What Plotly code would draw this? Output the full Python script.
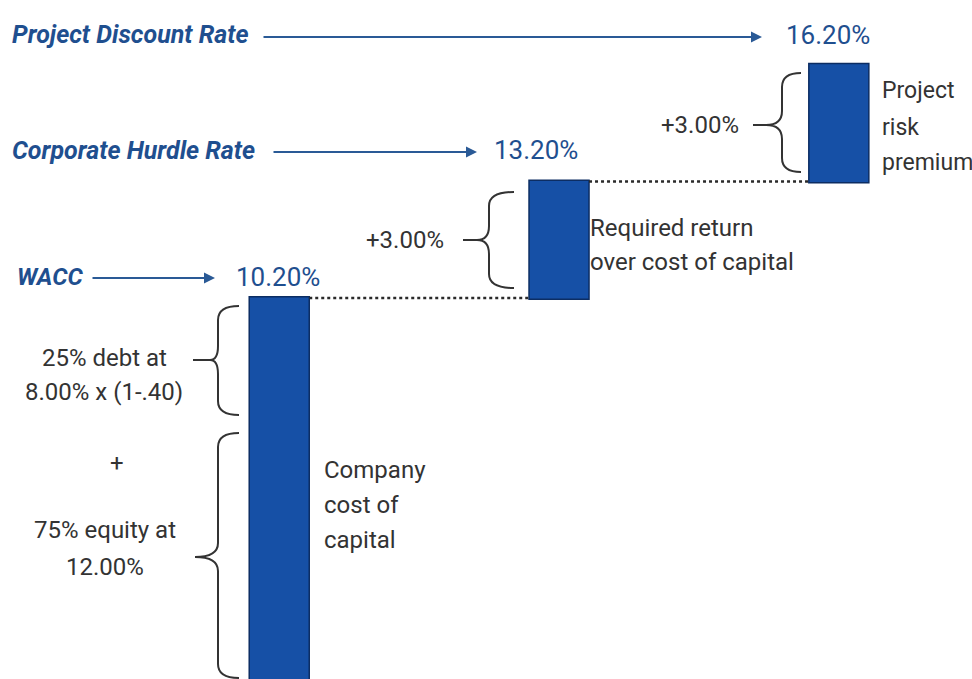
import plotly.graph_objects as go

# ---- data ----
steps = ["Company cost of capital", "Required return over cost of capital", "Project risk premium"]
increments = [10.20, 3.00, 3.00]
rate_names = ["WACC", "Corporate Hurdle Rate", "Project Discount Rate"]
step_notes = [["Company", "cost of", "capital"],
              ["Required return", "over cost of capital"],
              ["Project", "risk", "premium"]]
wacc_parts = [["25% debt at", "8.00% x (1-.40)"], ["75% equity at", "12.00%"]]

W, H = 972, 679
BLUE_TXT = "#1f4f8f"
BAR = "#1650a6"
DARK = "#333333"
FONT = "Roboto, Liberation Sans, sans-serif"

def P(x, y):
    return x / W, 1 - y / H

cum = []
s = 0
for v in increments:
    s += v
    cum.append(s)

fig = go.Figure(go.Waterfall(
    x=steps, y=increments, measure=["relative"] * len(increments),
    width=0.2145,
    increasing=dict(marker=dict(color=BAR, line=dict(color="#0c2d63", width=1.5))),
    connector=dict(line=dict(color="#2a2a2a", width=2.5, dash="dot"), mode="between"),
    textinfo="none", hoverinfo="skip",
))

annotations = []
shapes = []

def text(x, ys, t, size=24, color=DARK, xanchor="left", italic=False, bold=False):
    lines = t if isinstance(t, list) else [t]
    ys = ys if isinstance(ys, list) else [ys]
    for line, y in zip(lines, ys):
        px, py = P(x, y)
        tt = line
        if bold:
            tt = "<b>" + tt + "</b>"
        if italic:
            tt = "<i>" + tt + "</i>"
        annotations.append(dict(x=px, y=py, xref="paper", yref="paper", text=tt, showarrow=False,
                                xanchor=xanchor, yanchor="middle",
                                font=dict(family=FONT, size=size, color=color)))

def arrow(x0, x1, y):
    px, py = P(x1, y)
    annotations.append(dict(x=px, y=py, xref="paper", yref="paper", text="", showarrow=True,
                            ax=x0 - x1, ay=0, arrowhead=2, arrowsize=1.1, arrowwidth=2,
                            arrowcolor="#2a5a96"))

def brace(xr, xs, xt, yt, ym, yb, stub=None, r=14):
    pts = [("M", [(xr, yt)]), ("Q", [(xs, yt), (xs, yt + r)]), ("L", [(xs, ym - r)]),
           ("Q", [(xs, ym), (xt, ym)]), ("Q", [(xs, ym), (xs, ym + r)]), ("L", [(xs, yb - r)]),
           ("Q", [(xs, yb), (xr, yb)])]
    if stub is not None:
        pts += [("M", [(stub, ym)]), ("L", [(xt, ym)])]
    path = ""
    for cmd, ps in pts:
        path += cmd + " " + " ".join(f"{P(a, b)[0]:.5f},{P(a, b)[1]:.5f}" for a, b in ps) + " "
    shapes.append(dict(type="path", path=path.strip(), xref="paper", yref="paper",
                       line=dict(color=DARK, width=2)))

# rate labels with arrows
text(10, 34, rate_names[2], size=25, color=BLUE_TXT, italic=True, bold=True)
arrow(262, 762, 37)
text(784, 35, f"{cum[2]:.2f}%", size=26, color=BLUE_TXT)

text(10, 150, rate_names[1], size=25, color=BLUE_TXT, italic=True, bold=True)
arrow(272, 477, 152)
text(492, 150, f"{cum[1]:.2f}%", size=26, color=BLUE_TXT)

text(15, 277, rate_names[0], size=24, color=BLUE_TXT, italic=True, bold=True)
arrow(91, 215, 278)
text(234, 277, f"{cum[0]:.2f}%", size=26, color=BLUE_TXT)

# increments
text(741, 125, f"+{increments[2]:.2f}%", size=24, xanchor="right")
brace(801, 782, 766, 73, 125, 172, stub=753)
text(880, [91, 127, 162], step_notes[2], size=23)

text(446, 240, f"+{increments[1]:.2f}%", size=24, xanchor="right")
brace(514, 489, 477, 192, 240, 288, stub=463)
text(588, [228, 262], step_notes[1], size=24)

# WACC components
text(104, [358, 392], wacc_parts[0], size=24, xanchor="center")
brace(239, 218, 210, 306, 360, 415, stub=193)
text(117, 463, "+", size=24, xanchor="center")
text(105, [530, 567], wacc_parts[1], size=24, xanchor="center")
brace(239, 218, 195, 433, 557, 678)
text(322, [470, 505, 540], step_notes[0], size=24)

fig.update_layout(
    width=W, height=H, margin=dict(l=0, r=0, t=0, b=0),
    paper_bgcolor="white", plot_bgcolor="white", showlegend=False,
    xaxis=dict(range=[-0.998, 2.476], visible=False, showgrid=False, zeroline=False),
    yaxis=dict(range=[0.39, 17.87], visible=False, showgrid=False, zeroline=False),
    annotations=annotations, shapes=shapes,
)

fig.write_html("out.html", config={"displayModeBar": False},
               post_script="document.body.style.margin='0';document.body.style.overflow='hidden';")
